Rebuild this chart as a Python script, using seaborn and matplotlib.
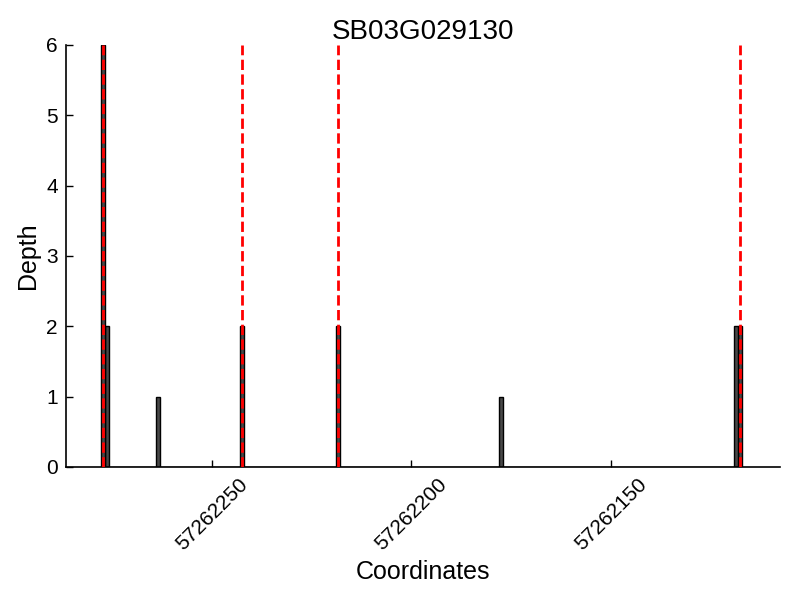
import numpy as np
import pandas as pd
import matplotlib
matplotlib.use("Agg")
import matplotlib.pyplot as plt
import seaborn as sns

# Depth per coordinate
coords = [57262277, 57262276, 57262263, 57262242, 57262218, 57262177, 57262118, 57262117]
depth = [6, 2, 1, 2, 2, 1, 2, 2]
# Red dashed markers
marks = [57262277, 57262242, 57262218, 57262117]
ticks = [57262250, 57262200, 57262150]
gene = "SB03G029130"

sns.set_style("ticks")
plt.rcParams['font.family'] = ['Liberation Sans', 'DejaVu Sans']
plt.rcParams['xtick.direction'] = 'in'
plt.rcParams['ytick.direction'] = 'in'
plt.rcParams['text.color'] = 'black'
plt.rcParams['axes.labelcolor'] = 'black'

df = pd.DataFrame({'coord': coords, 'depth': depth})

fig = plt.figure(figsize=(8, 6), dpi=100)
ax = fig.add_axes([0.0825, 0.222, 0.8925, 0.703])

# one bin per base: each bar spans [c, c+1)
sns.histplot(data=df, x='coord', weights='depth', binwidth=1,
             binrange=(min(coords), max(coords) + 1),
             color='#484848', edgecolor='black', linewidth=1, alpha=1, ax=ax)

for m in marks:
    ax.axvline(m + 0.5, color='red', linestyle='--', linewidth=2, zorder=5)

ax.set_xlim(57262286.7, 57262107.5)
ax.set_ylim(0, 6)
ax.set_xticks(ticks)
ax.set_xticklabels([str(t) for t in ticks], rotation=45, fontsize=15)
ax.set_yticks(range(7))
ax.set_yticklabels([str(i) for i in range(7)], fontsize=15)
ax.tick_params(axis='both', length=5, width=1, colors='black', pad=6)
ax.set_xlabel('Coordinates', fontsize=18)
ax.set_ylabel('Depth', fontsize=18)
ax.set_title(gene, fontsize=20, pad=4)
sns.despine(ax=ax)
for s in ['left', 'bottom']:
    ax.spines[s].set_linewidth(1.2)
    ax.spines[s].set_color('black')

fig.savefig('out.png', dpi=100)
plt.close(fig)
